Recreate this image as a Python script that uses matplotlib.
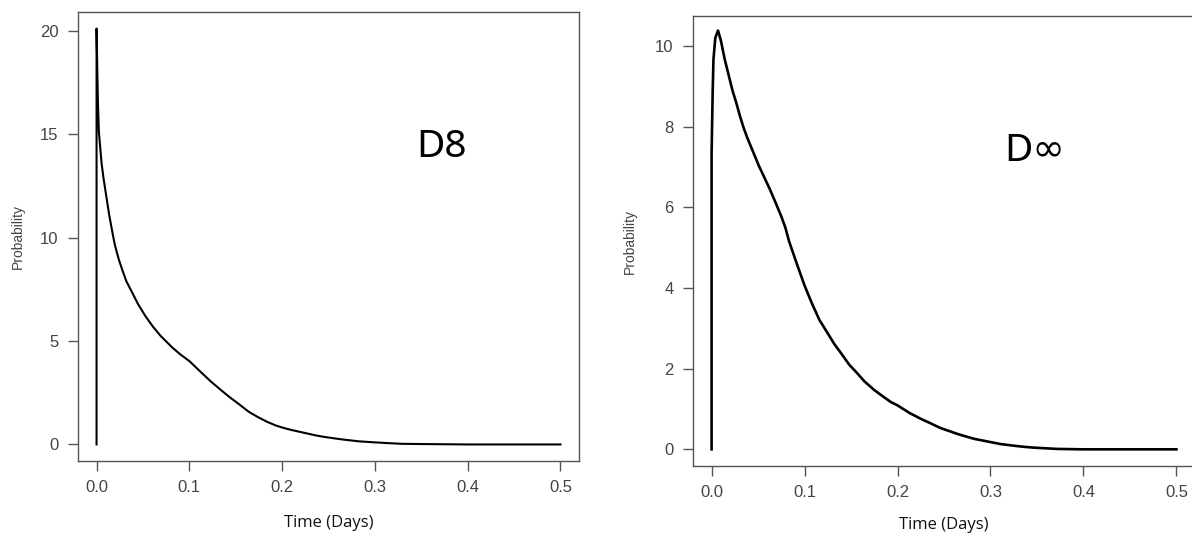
import matplotlib
matplotlib.use("Agg")
import matplotlib.pyplot as plt

# ---- data ----
d8_time = [0.0, 0.0, 0.0008, 0.0015, 0.0025, 0.0054, 0.0074, 0.0115, 0.0136, 0.0177,
           0.0198, 0.0239, 0.028, 0.032, 0.040, 0.0445, 0.0527, 0.061, 0.069,
           0.0815, 0.0898, 0.100, 0.110, 0.123, 0.133, 0.143, 0.154, 0.164,
           0.174, 0.184, 0.193, 0.200, 0.209, 0.226, 0.236, 0.246, 0.257,
           0.267, 0.283, 0.300, 0.312, 0.329, 0.349, 0.400, 0.500]
d8_prob = [0.0, 20.1, 18.1, 16.5, 15.1, 13.6, 12.9, 11.7, 11.1, 10.1,
           9.63, 8.95, 8.4, 7.9, 7.2, 6.8, 6.2, 5.68, 5.25,
           4.69, 4.37, 4.03, 3.6, 3.05, 2.67, 2.30, 1.93, 1.58,
           1.32, 1.09, 0.92, 0.82, 0.71, 0.54, 0.44, 0.36, 0.29,
           0.23, 0.15, 0.10, 0.07, 0.03, 0.02, 0.0, 0.0]

dinf_time = [0.0, 0.0, 0.0012, 0.002, 0.004, 0.0069, 0.010, 0.0142, 0.0183, 0.0224,
             0.0264, 0.0305, 0.0346, 0.0386, 0.0447, 0.0508, 0.0569, 0.063,
             0.0691, 0.0752, 0.0793, 0.0833, 0.0915, 0.100, 0.1077, 0.1159,
             0.124, 0.132, 0.140, 0.148, 0.1565, 0.1646, 0.175, 0.185, 0.193,
             0.200, 0.213, 0.2256, 0.236, 0.246, 0.256, 0.266, 0.2825, 0.300,
             0.311, 0.327, 0.337, 0.348, 0.360, 0.372, 0.400, 0.500]
dinf_prob = [0.0, 7.33, 8.9, 9.66, 10.2, 10.38, 10.13, 9.66, 9.28, 8.9,
             8.6, 8.26, 7.96, 7.71, 7.37, 7.03, 6.73, 6.43,
             6.10, 5.76, 5.5, 5.16, 4.61, 4.06, 3.63, 3.21,
             2.91, 2.61, 2.36, 2.10, 1.89, 1.68, 1.47, 1.30, 1.17,
             1.09, 0.90, 0.75, 0.64, 0.53, 0.45, 0.37, 0.26, 0.18,
             0.13, 0.085, 0.06, 0.04, 0.025, 0.01, 0.0, 0.0]

x_ticks = [0.0, 0.1, 0.2, 0.3, 0.4, 0.5]
x_ticklabels = ["0.0", "0.1", "0.2", "0.3", "0.4", "0.5"]
d8_yticks = [0, 5, 10, 15, 20]
dinf_yticks = [0, 2, 4, 6, 8, 10]
x_label = "Time (Days)"
y_label = "Probability"
panel_labels = ["D8", "D\u221e"]

fig = plt.figure(figsize=(11.92, 5.34), dpi=100)
fig.patch.set_facecolor("white")

ax1 = fig.add_axes([78 / 1192, 1 - 461 / 534, 501 / 1192, 449 / 534])
ax2 = fig.add_axes([693 / 1192, 1 - 466 / 534, 502 / 1192, 450 / 534])

spine_col = "#555555"
tick_col = "#444444"


def style(ax, yticks, ylim):
    ax.set_xlim(-0.02, 0.52)
    ax.set_ylim(*ylim)
    ax.set_xticks(x_ticks)
    ax.set_xticklabels(x_ticklabels)
    ax.set_yticks(yticks)
    ax.set_yticklabels([str(v) for v in yticks])
    for s in ax.spines.values():
        s.set_color(spine_col)
        s.set_linewidth(1.0)
    ax.tick_params(direction="out", length=7, width=1, colors=spine_col,
                   labelcolor=tick_col, labelsize=12, pad=7)
    for lab in ax.get_xticklabels() + ax.get_yticklabels():
        lab.set_fontfamily("Liberation Sans")


ax1.plot(d8_time, d8_prob, color="black", lw=1.5)
style(ax1, d8_yticks, (-0.8, 20.9))
ax1.set_xlabel(x_label, fontsize=12, family="Open Sans", color="#111111", labelpad=14)
ax1.set_ylabel(y_label, fontsize=10, family="Liberation Sans", color="#444444", labelpad=11)
ax1.text(0.725, 0.70, panel_labels[0], transform=ax1.transAxes, fontsize=28,
         family=["Noto Sans", "DejaVu Sans"], ha="center", va="center")

ax2.plot(dinf_time, dinf_prob, color="black", lw=1.9)
style(ax2, dinf_yticks, (-0.413, 10.74))
ax2.set_xlabel(x_label, fontsize=12, family="Open Sans", color="#111111", labelpad=12)
ax2.set_ylabel(y_label, fontsize=10, family="Liberation Sans", color="#444444", labelpad=13)
ax2.text(0.68, 0.70, panel_labels[1], transform=ax2.transAxes, fontsize=28,
         family=["Noto Sans", "DejaVu Sans"], ha="center", va="center")

fig.savefig("out.png", dpi=100, facecolor="white")
